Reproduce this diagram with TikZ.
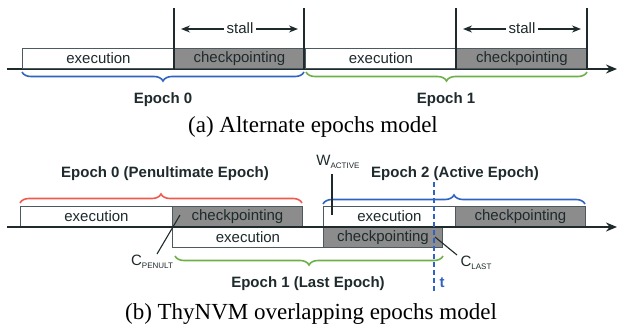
\documentclass[tikz,border=0pt]{standalone}
\usepackage{fontspec}
\setmainfont{Liberation Serif}
\setsansfont{Liberation Sans}
\usetikzlibrary{arrows.meta,decorations.pathreplacing}
\definecolor{boxline}{HTML}{4A5A5E}
\definecolor{ckfill}{HTML}{8C8C8C}
\definecolor{bblue}{HTML}{2F63C0}
\definecolor{bgreen}{HTML}{6DB048}
\definecolor{bred}{HTML}{EE5A4E}
\definecolor{ink}{HTML}{1E2A2C}
\tikzset{
  execbox/.style={draw=boxline, line width=0.9pt, fill=white, font=\sffamily\fontsize{15}{15}\selectfont, text=ink},
  ckbox/.style={execbox, fill=ckfill},
  axis/.style={line width=2pt, ink, -{Stealth[length=11pt,width=9pt]}},
  wall/.style={line width=1.6pt, ink},
  stallarrow/.style={line width=1.4pt, ink, {Stealth[length=9pt,width=7pt]}-{Stealth[length=9pt,width=7pt]}},
  bracedec/.style={decorate, decoration={brace, amplitude=9pt, raise=0pt}, line width=1.6pt},
  epochlbl/.style={font=\sffamily\bfseries\fontsize{15}{15}\selectfont, text=ink},
  lbl/.style={font=\sffamily\fontsize{15}{15}\selectfont, text=ink},
  pointer/.style={line width=1.1pt, ink},
  caption/.style={font=\rmfamily\fontsize{23}{23}\selectfont, text=black}
}
\begin{document}
\begin{tikzpicture}[x=1pt,y=-1pt]
\useasboundingbox (0,0) rectangle (618,329);
% ---------- (a) ----------
\coordinate (a0) at (7,69);
\coordinate (a1) at (617,69);
\draw[axis] (a0) -- (a1);
\node[execbox, minimum width=152pt, minimum height=20pt, inner sep=0pt, anchor=south west] (ae0) at (22,69) {execution};
\node[ckbox, minimum width=130pt, minimum height=20pt, inner sep=0pt, anchor=south west] (ac0) at (174,69) {checkpointing};
\node[execbox, minimum width=151pt, minimum height=20pt, inner sep=0pt, anchor=south west] (ae1) at (305,69) {execution};
\node[ckbox, minimum width=131pt, minimum height=20pt, inner sep=0pt, anchor=south west] (ac1) at (456,69) {checkpointing};
\coordinate (w0t) at (174,8); \coordinate (w0b) at (174,69);
\coordinate (w1t) at (304,8); \coordinate (w1b) at (304,69);
\coordinate (w2t) at (456,8); \coordinate (w2b) at (456,69);
\coordinate (w3t) at (587,8); \coordinate (w3b) at (587,69);
\draw[wall] (w0t) -- (w0b);
\draw[wall] (w1t) -- (w1b);
\draw[wall] (w2t) -- (w2b);
\draw[wall] (w3t) -- (w3b);
\coordinate (s0l) at (181,29); \coordinate (s0r) at (298,29);
\coordinate (s1l) at (463,29); \coordinate (s1r) at (581,29);
\draw[stallarrow] (s0l) -- (s0r);
\draw[stallarrow] (s1l) -- (s1r);
\node[lbl, fill=white, inner sep=3pt] (st0) at (240,28) {stall};
\node[lbl, fill=white, inner sep=3pt] (st1) at (522,28) {stall};
\coordinate (b0l) at (22,72); \coordinate (b0r) at (304,72);
\coordinate (b1l) at (306,72); \coordinate (b1r) at (587,72);
\draw[bracedec, bblue] (b0r) -- (b0l);
\draw[bracedec, bgreen] (b1r) -- (b1l);
\node[epochlbl] (ep0) at (163,100) {Epoch 0};
\node[epochlbl] (ep1) at (446,100) {Epoch 1};
\node[caption] (capa) at (313,127) {(a) Alternate epochs model};
% ---------- (b) ----------
\coordinate (b0) at (7,227);
\coordinate (b1) at (617,227);
\node[execbox, minimum width=152pt, minimum height=20pt, inner sep=0pt, anchor=south west] (be0) at (20,227) {execution};
\node[ckbox, minimum width=130pt, minimum height=20pt, inner sep=0pt, anchor=south west] (bc0) at (172,227) {checkpointing};
\node[execbox, minimum width=151pt, minimum height=20pt, inner sep=0pt, anchor=north west] (be1) at (172,227) {execution};
\node[ckbox, minimum width=119pt, minimum height=20pt, inner sep=0pt, anchor=north west] (bc1) at (323,227) {checkpointing};
\node[execbox, minimum width=132pt, minimum height=20pt, inner sep=0pt, anchor=south west] (be2) at (323,227) {execution};
\node[ckbox, minimum width=130pt, minimum height=20pt, inner sep=0pt, anchor=south west] (bc2) at (455,227) {checkpointing};
\draw[axis] (b0) -- (b1);
\coordinate (rb0) at (20,203); \coordinate (rb1) at (302,203);
\coordinate (bb0) at (323,204); \coordinate (bb1) at (585,204);
\coordinate (gb0) at (175,256); \coordinate (gb1) at (443,256);
\draw[bracedec, bred] (rb0) -- (rb1);
\draw[bracedec, bblue] (bb0) -- (bb1);
\draw[bracedec, bgreen] (gb1) -- (gb0);
\node[epochlbl] (epb0) at (165,174) {Epoch 0 (Penultimate Epoch)};
\node[epochlbl] (epb2) at (455,174) {Epoch 2 (Active Epoch)};
\node[epochlbl] (epb1) at (308,284) {Epoch 1 (Last Epoch)};
\coordinate (tt) at (434,182); \coordinate (tb) at (434,293);
\draw[bblue, line width=1.2pt, dash pattern=on 5pt off 3pt] (tt) -- (tb);
\node[font=\sffamily\bfseries\fontsize{15}{15}\selectfont, text=bblue] (tlbl) at (442,283) {t};
% pointers
\node[lbl, inner sep=1pt] (cpen) at (152,262) {C\raisebox{-0.35ex}{\fontsize{8}{8}\selectfont PENULT}};
\coordinate (cpenp) at (180,215);
\draw[pointer] (cpenp) -- (157,254);
\node[lbl, inner sep=1pt] (wact) at (338,162) {W\raisebox{-0.35ex}{\fontsize{8}{8}\selectfont ACTIVE}};
\coordinate (wactt) at (332,174); \coordinate (wactb) at (332,215);
\draw[pointer] (wactt) -- (wactb);
\node[lbl, inner sep=1pt] (clast) at (476,263) {C\raisebox{-0.35ex}{\fontsize{8}{8}\selectfont LAST}};
\coordinate (clastp) at (435,237);
\draw[pointer] (clastp) -- (457,255);
\node[caption] (capb) at (311,314) {(b) ThyNVM overlapping epochs model};
\end{tikzpicture}
\end{document}
